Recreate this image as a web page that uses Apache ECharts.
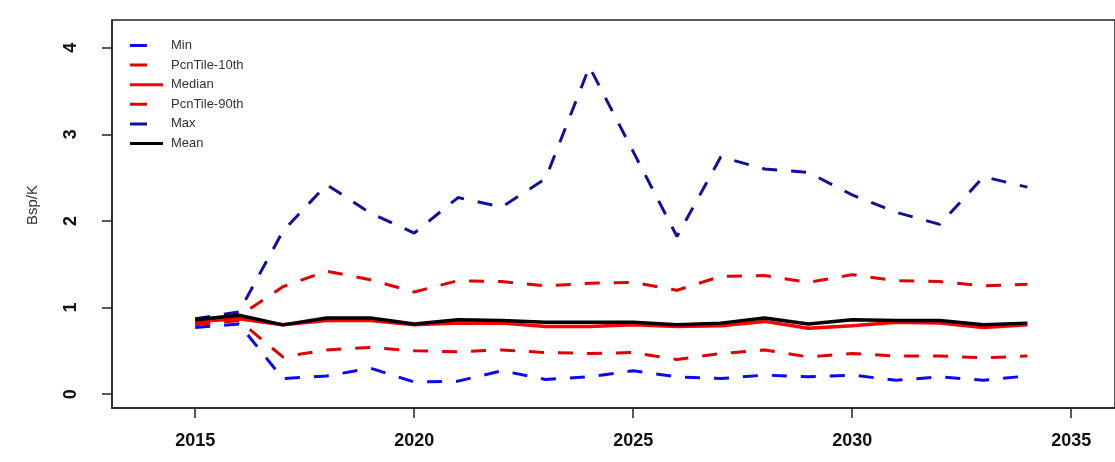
<!DOCTYPE html>
<html>
<head>
<meta charset="utf-8">
<script src="https://cdn.jsdelivr.net/npm/echarts@6/dist/echarts.min.js"></script>
<style>
html,body{margin:0;padding:0;background:#fff;}
#c{width:1115px;height:462px;}
</style>
</head>
<body>
<div id="c"></div>
<script>
const years = [2015,2016,2017,2018,2019,2020,2021,2022,2023,2024,2025,2026,2027,2028,2029,2030,2031,2032,2033,2034];
const minVals    = [0.77,0.81,0.18,0.21,0.30,0.14,0.15,0.27,0.17,0.20,0.27,0.20,0.18,0.22,0.20,0.22,0.16,0.20,0.16,0.21];
const pct10Vals  = [0.80,0.85,0.43,0.51,0.54,0.50,0.49,0.51,0.48,0.47,0.48,0.40,0.47,0.51,0.43,0.47,0.44,0.44,0.42,0.44];
const medianVals = [0.84,0.87,0.80,0.85,0.85,0.80,0.82,0.82,0.78,0.78,0.80,0.78,0.79,0.84,0.76,0.79,0.83,0.82,0.77,0.80];
const pct90Vals  = [0.82,0.90,1.24,1.42,1.32,1.18,1.31,1.30,1.25,1.28,1.29,1.20,1.36,1.37,1.29,1.38,1.31,1.30,1.25,1.27];
const maxVals    = [0.87,0.95,1.88,2.42,2.09,1.86,2.27,2.16,2.49,3.78,2.80,1.82,2.74,2.60,2.56,2.30,2.10,1.96,2.51,2.39];
const meanVals   = [0.86,0.91,0.80,0.88,0.88,0.81,0.86,0.85,0.83,0.83,0.83,0.80,0.82,0.88,0.81,0.86,0.85,0.85,0.80,0.82];
const xTicks = [2015,2020,2025,2030,2035];
const yTicks = [0,1,2,3,4];
const yName = 'Bsp/K';

const pair = v => years.map((y,i)=>[y, v[i]]);
const dash = [15,14];
function ser(name, vals, color, type, width){
  return {name, type:'line', data:pair(vals), symbol:'none', smooth:false,
    lineStyle:{color, width, type}, itemStyle:{color}, z: 2};
}
const dashIcon = 'path://M0 0H17V3H0Z M33 0L33 3';
const solidIcon = 'path://M0 0H33V3H0Z';
const chart = echarts.init(document.getElementById('c'), null, {renderer:'canvas'});
const font = 'Liberation Sans, Arial, sans-serif';
chart.setOption({
  animation:false,
  backgroundColor:'#fff',
  grid:{left:112, top:20, width:1010, height:388, show:true, borderColor:'#222', borderWidth:1.5, backgroundColor:'transparent'},
  graphic:[{type:'text', x:33, y:205, rotation:Math.PI/2,
    style:{text:yName, fontFamily:font, fontSize:15, fill:'#333', align:'center', verticalAlign:'middle'}}],
  legend:{
    orient:'vertical', left:125, top:34, itemWidth:33, itemHeight:3, itemGap:6.6,
    textStyle:{fontFamily:font, fontSize:13, color:'#333', lineHeight:13,
      rich:{a:{fontFamily:font, fontSize:13, color:'#333', lineHeight:13, padding:[0,0,0,3]}}},
    formatter: n => '{a|'+n+'}',
    data:[
      {name:'Min', icon:dashIcon},
      {name:'PcnTile-10th', icon:dashIcon},
      {name:'Median', icon:solidIcon},
      {name:'PcnTile-90th', icon:dashIcon},
      {name:'Max', icon:dashIcon},
      {name:'Mean', icon:solidIcon}
    ]
  },
  xAxis:{
    type:'value', min:2013.1, max:2036.0,
    splitLine:{show:false},
    axisLine:{show:true, onZero:false, lineStyle:{color:'#222', width:1.5}},
    axisTick:{show:true, length:10, customValues:xTicks, lineStyle:{color:'#222', width:1.5}},
    axisLabel:{customValues:xTicks, margin:24, fontFamily:font, fontWeight:'bold', fontSize:18, color:'#111', formatter: v=>String(v)}
  },
  yAxis:{
    type:'value', min:-0.16, max:4.32,
    splitLine:{show:false},
    axisLine:{show:true, onZero:false, lineStyle:{color:'#222', width:1.5}},
    axisTick:{show:true, length:10, customValues:yTicks, lineStyle:{color:'#222', width:1.5}},
    axisLabel:{customValues:yTicks, rotate:90, margin:32, fontFamily:font, fontWeight:'bold', fontSize:18, color:'#111', formatter: v=>String(v)}
  },
  series:[
    ser('Min', minVals, '#0a0af0', dash, 3),
    ser('PcnTile-10th', pct10Vals, '#e00000', dash, 3),
    ser('Median', medianVals, '#ff0000', 'solid', 3.5),
    ser('PcnTile-90th', pct90Vals, '#e00000', dash, 3),
    ser('Max', maxVals, '#10109a', dash, 3),
    ser('Mean', meanVals, '#000000', 'solid', 3.5)
  ]
});
</script>
</body>
</html>
